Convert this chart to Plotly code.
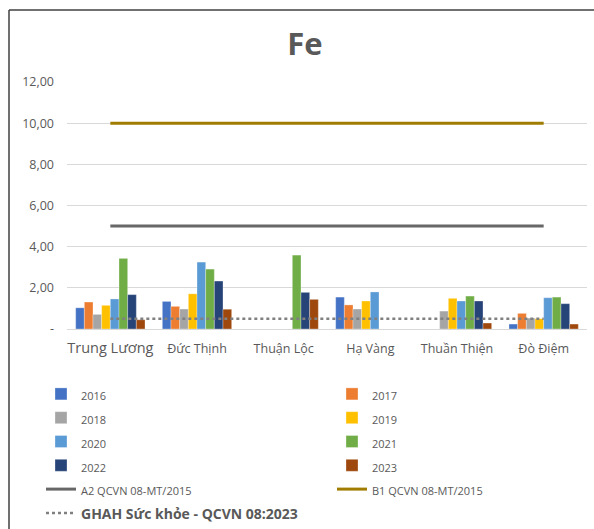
import plotly.graph_objects as go

categories = ["Trung Lương", "Đức Thịnh", "Thuận Lộc", "Hạ Vàng", "Thuần Thiện", "Đò Điệm"]
years = ["2016", "2017", "2018", "2019", "2020", "2021", "2022", "2023"]
v2016 = [1.03, 1.34, None, 1.55, None, 0.24]
v2017 = [1.31, 1.10, None, 1.17, None, 0.76]
v2018 = [0.71, 0.97, None, 0.97, 0.87, 0.53]
v2019 = [1.15, 1.71, None, 1.36, 1.49, 0.50]
v2020 = [1.46, 3.25, None, 1.80, 1.36, 1.52]
v2021 = [3.43, 2.91, 3.59, None, 1.60, 1.55]
v2022 = [1.67, 2.33, 1.78, None, 1.36, 1.23]
v2023 = [0.45, 0.96, 1.44, None, 0.29, 0.24]
series = [v2016, v2017, v2018, v2019, v2020, v2021, v2022, v2023]
colors = ["#4472C4", "#ED7D31", "#A5A5A5", "#FFC000", "#5B9BD5", "#70AD47", "#264478", "#9E480E"]

a2_value = 5.0
b1_value = 10.0
ghah_value = 0.5

ytick_vals = [0, 2, 4, 6, 8, 10, 12]
ytick_text = ["-", "2,00", "4,00", "6,00", "8,00", "10,00", "12,00"]
xtick_text = ['<span style="font-size:14.5px">Trung Lương</span>', "Đức Thịnh", "Thuận Lộc",
              "Hạ Vàng", "Thuần Thiện", "Đò Điệm"]

W, H = 594, 529
L, R, T, B = 67, 7, 82, 200

fig = go.Figure()
for name, vals, c in zip(years, series, colors):
    fig.add_trace(go.Bar(
        x=categories, y=vals, name=f'<span style="font-size:11px">{name}</span>',
        marker=dict(color=c, line=dict(color="rgba(255,255,255,0.6)", width=0.5)),
    ))

fig.add_trace(go.Scatter(x=categories, y=[a2_value] * len(categories), mode="lines",
                         name='<span style="font-size:11px">A2 QCVN 08-MT/2015</span>',
                         line=dict(color="#676767", width=3)))
fig.add_trace(go.Scatter(x=categories, y=[b1_value] * len(categories), mode="lines",
                         name='<span style="font-size:11px">B1 QCVN 08-MT/2015</span>',
                         line=dict(color="#A07C00", width=3)))
fig.add_trace(go.Scatter(x=categories, y=[ghah_value] * len(categories), mode="lines",
                         name='<b><span style="font-size:14px">GHAH Sức khỏe - QCVN 08:2023</span></b>',
                         line=dict(color="#808080", width=2.5, dash="dot")))

pw = W - L - R
ph = H - T - B
def px2x(px):
    return (px - L) / pw
def py2y(py):
    return (H - B - py) / ph

fig.update_layout(
    width=W, height=H,
    margin=dict(l=L, r=R, t=T, b=B, autoexpand=False),
    paper_bgcolor="white", plot_bgcolor="white",
    font=dict(family="Open Sans, Lato, sans-serif", color="#595959", size=12),
    title=dict(text="<b>Fe</b>", x=305 / W, xanchor="center", y=1 - 44 / H, yanchor="middle",
               font=dict(size=31, color="#595959")),
    barmode="group", bargap=0.2, bargroupgap=0,
    showlegend=True,
    legend=dict(orientation="h", xref="paper", yref="paper",
                x=px2x(41), xanchor="left", y=py2y(377), yanchor="top",
                entrywidth=246, entrywidthmode="pixels",
                font=dict(size=16, color="#595959"), traceorder="normal",
                bgcolor="rgba(0,0,0,0)", borderwidth=0),
    xaxis=dict(tickmode="array", tickvals=categories, ticktext=xtick_text,
               tickfont=dict(size=12.5, color="#595959"), showgrid=False, showline=False,
               ticks="", ticklabelstandoff=10),
    yaxis=dict(range=[0, 12], tickmode="array", tickvals=ytick_vals, ticktext=ytick_text,
               showgrid=True, gridcolor="#D9D9D9", gridwidth=1, zeroline=True,
               zerolinecolor="#D9D9D9", zerolinewidth=1, showline=False, ticks="",
               tickfont=dict(size=12.5, color="#595959"), ticklabelstandoff=12),
    shapes=[
        dict(type="line", xref="paper", yref="paper", x0=px2x(9), x1=px2x(W + 5),
             y0=py2y(10), y1=py2y(10), line=dict(color="#404040", width=1.5)),
        dict(type="line", xref="paper", yref="paper", x0=px2x(9), x1=px2x(9),
             y0=py2y(10), y1=py2y(H + 5), line=dict(color="#404040", width=1.5)),
    ],
)

fig.write_html("out.html")
